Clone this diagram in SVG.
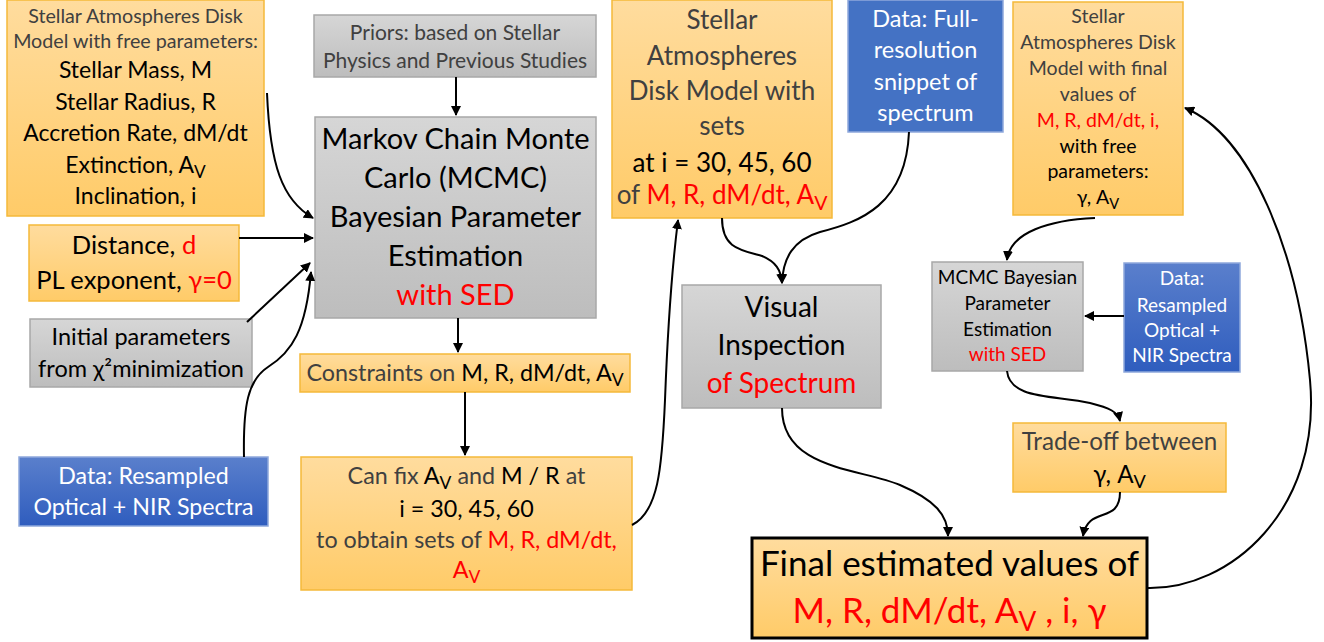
<svg xmlns="http://www.w3.org/2000/svg" width="1324" height="642" viewBox="0 0 1324 642">
<defs>
<linearGradient id="gO" x1="0" y1="0" x2="0" y2="1"><stop offset="0" stop-color="#FFDC9E"/><stop offset="1" stop-color="#FFCB68"/></linearGradient>
<linearGradient id="gG" x1="0" y1="0" x2="0" y2="1"><stop offset="0" stop-color="#D6D6D6"/><stop offset="1" stop-color="#BDBDBD"/></linearGradient>
<linearGradient id="gB" x1="0" y1="0" x2="0" y2="1"><stop offset="0" stop-color="#5A7FCC"/><stop offset="1" stop-color="#2F5DBE"/></linearGradient>
<marker id="ah" viewBox="0 0 10 10" refX="9" refY="5" markerWidth="10" markerHeight="10" markerUnits="userSpaceOnUse" orient="auto"><path d="M0,0 L10,5 L0,10 z" fill="#000"/></marker>
<style>
text{font-family:Lato,"Open Sans","Liberation Sans",sans-serif;text-anchor:middle;fill:#000}
.o{fill:url(#gO);stroke:#F5B93A;stroke-width:1.5}
.g{fill:url(#gG);stroke:#A8A8A8;stroke-width:1.5}
.b{fill:url(#gB);stroke:#8EA8DB;stroke-width:1.5}
.bf{fill:#4472C4;stroke:#8EA8DB;stroke-width:1.5}
.fin{fill:url(#gO);stroke:#000;stroke-width:3}
.dg{fill:#404040}
.r{fill:#FF0000}
.w{fill:#fff}
.sub{font-size:75%;baseline-shift:-30%}
.c path{fill:none;stroke:#000;stroke-width:2;marker-end:url(#ah)}
</style>
</defs>

<g id="n-freeparams">
<rect class="o" x="7" y="0" width="257" height="216"/>
<text font-size="19.7"><tspan class="dg" x="135.5" y="23">Stellar Atmospheres Disk</tspan><tspan class="dg" x="135.5" y="48">Model with free parameters:</tspan></text>
<text font-size="23"><tspan x="135.5" y="78">Stellar Mass, M</tspan><tspan x="135.5" y="110">Stellar Radius, R</tspan><tspan x="135.5" y="141">Accretion Rate, dM/dt</tspan><tspan x="135.5" y="173">Extinction, A<tspan class="sub">V</tspan></tspan><tspan x="135.5" y="204">Inclination, i</tspan></text>
</g>

<g id="n-distance">
<rect class="o" x="29" y="225" width="210" height="76"/>
<text font-size="25.5"><tspan x="134" y="254">Distance, <tspan class="r">d</tspan></tspan><tspan x="134" y="289">PL exponent, <tspan class="r">γ=0</tspan></tspan></text>
</g>

<g id="n-initial">
<rect class="g" x="30" y="319" width="222" height="68"/>
<text font-size="23.5"><tspan x="141" y="345">Initial parameters</tspan><tspan x="141" y="377">from χ²minimization</tspan></text>
</g>

<g id="n-data-left">
<rect class="b" x="19" y="457" width="249" height="69"/>
<text font-size="23.2"><tspan class="w" x="143.5" y="484">Data: Resampled</tspan><tspan class="w" x="143.5" y="515">Optical + NIR Spectra</tspan></text>
</g>

<g id="n-priors">
<rect class="g" x="314" y="15" width="282" height="62"/>
<text font-size="21"><tspan class="dg" x="455" y="40">Priors: based on Stellar</tspan><tspan class="dg" x="455" y="68">Physics and Previous Studies</tspan></text>
</g>

<g id="n-mcmc">
<rect class="g" x="315" y="117" width="281" height="201"/>
<text font-size="29"><tspan x="455.5" y="149">Markov Chain Monte</tspan><tspan x="455.5" y="188">Carlo (MCMC)</tspan><tspan x="455.5" y="227">Bayesian Parameter</tspan><tspan x="455.5" y="266">Estimation</tspan><tspan class="r" x="455.5" y="305">with SED</tspan></text>
</g>

<g id="n-constraints">
<rect class="o" x="300" y="354" width="330" height="38"/>
<text font-size="23.3" x="465" y="381"><tspan class="dg">Constraints on </tspan>M, R, dM/dt, A<tspan class="sub">V</tspan></text>
</g>

<g id="n-canfix">
<rect class="o" x="301" y="457" width="331" height="133"/>
<text font-size="23.3"><tspan x="466.5" y="484"><tspan class="dg">Can fix </tspan>A<tspan class="sub">V</tspan><tspan class="dg"> and </tspan>M / R<tspan class="dg"> at</tspan></tspan><tspan x="466.5" y="517">i = 30, 45, 60</tspan><tspan x="466.5" y="548"><tspan class="dg">to obtain sets of </tspan><tspan class="r">M, R, dM/dt,</tspan></tspan><tspan class="r" x="466.5" y="578">A<tspan class="sub r">V</tspan></tspan></text>
</g>

<g id="n-sets">
<rect class="o" x="612" y="0" width="220" height="218"/>
<text font-size="26"><tspan class="dg" x="722" y="29">Stellar</tspan><tspan class="dg" x="722" y="65">Atmospheres</tspan><tspan class="dg" x="722" y="100">Disk Model with</tspan><tspan class="dg" x="722" y="135">sets</tspan><tspan x="722" y="172">at  i = 30, 45, 60</tspan><tspan x="722" y="204"><tspan class="dg">of </tspan><tspan class="r">M, R, dM/dt, A</tspan><tspan class="sub r">V</tspan></tspan></text>
</g>

<g id="n-data-full">
<rect class="bf" x="848" y="0" width="155" height="132"/>
<text font-size="23.5"><tspan class="w" x="925.5" y="27">Data: Full-</tspan><tspan class="w" x="925.5" y="58">resolution</tspan><tspan class="w" x="925.5" y="90">snippet of</tspan><tspan class="w" x="925.5" y="121">spectrum</tspan></text>
</g>

<g id="n-final-model">
<rect class="o" x="1013" y="2" width="170" height="213"/>
<text font-size="19.5"><tspan class="dg" x="1098" y="23">Stellar</tspan><tspan class="dg" x="1098" y="49">Atmospheres Disk</tspan><tspan class="dg" x="1098" y="75">Model with final</tspan><tspan class="dg" x="1098" y="101">values of</tspan><tspan class="r" x="1098" y="127">M, R, dM/dt, i,</tspan><tspan x="1098" y="153">with free</tspan><tspan x="1098" y="178">parameters:</tspan><tspan x="1098" y="204">γ, A<tspan class="sub">V</tspan></tspan></text>
</g>

<g id="n-visual">
<rect class="g" x="682" y="285" width="199" height="123"/>
<text font-size="28"><tspan x="781.5" y="317">Visual</tspan><tspan x="781.5" y="355">Inspection</tspan><tspan class="r" x="781.5" y="393">of Spectrum</tspan></text>
</g>

<g id="n-mcmc-small">
<rect class="g" x="932" y="262" width="151" height="109"/>
<text font-size="19"><tspan x="1007.5" y="284">MCMC Bayesian</tspan><tspan x="1007.5" y="310">Parameter</tspan><tspan x="1007.5" y="336">Estimation</tspan><tspan class="r" x="1007.5" y="361">with SED</tspan></text>
</g>

<g id="n-data-right">
<rect class="b" x="1124" y="263" width="116" height="109"/>
<text font-size="19"><tspan class="w" x="1182" y="285">Data:</tspan><tspan class="w" x="1182" y="312">Resampled</tspan><tspan class="w" x="1182" y="337">Optical +</tspan><tspan class="w" x="1182" y="362">NIR Spectra</tspan></text>
</g>

<g id="n-tradeoff">
<rect class="o" x="1013" y="423" width="213" height="69"/>
<text font-size="24.2"><tspan class="dg" x="1119.5" y="450">Trade-off between</tspan><tspan x="1119.5" y="483">γ, A<tspan class="sub">V</tspan></tspan></text>
</g>

<g id="n-final">
<rect class="fin" x="752" y="538" width="395" height="100"/>
<text font-size="35"><tspan x="949.5" y="576">Final estimated values of</tspan><tspan class="r" x="949.5" y="623">M, R, dM/dt, A<tspan class="sub r">V</tspan><tspan class="r"> , i, γ</tspan></tspan></text>
</g>

<g id="connectors" class="c">
<path d="M267,93 C270,165 282,200 313,218"/>
<path d="M239,238 L313,238"/>
<path d="M247,322 L310,263"/>
<path d="M244,457 C243,405 248,380 268,367 C292,352 306,330 311,272"/>
<path d="M456,77 L456,115"/>
<path d="M458,318 L458,352"/>
<path d="M465,392 L465,455"/>
<path d="M632,525 C658,512 662,470 665,400 C668,320 673,260 678,220"/>
<path d="M722,218 C722,248 740,250 762,256 C776,262 781,270 782,283"/>
<path d="M909,132 C906,205 860,222 820,232 C793,240 783,258 782,283"/>
<path d="M782,408 C782,470 860,468 900,485 C935,500 948,515 948,536"/>
<path d="M1120,492 C1120,525 1088,505 1083,536"/>
<path d="M1147,588 C1230,590 1322,510 1310,380 C1298,250 1250,135 1185,108"/>
<path d="M1095,218 C1050,220 1010,232 1007,260"/>
<path d="M1124,316 L1085,316"/>
<path d="M1007,371 C1010,400 1055,395 1090,403 C1110,408 1118,412 1120,421"/>
</g>
</svg>
